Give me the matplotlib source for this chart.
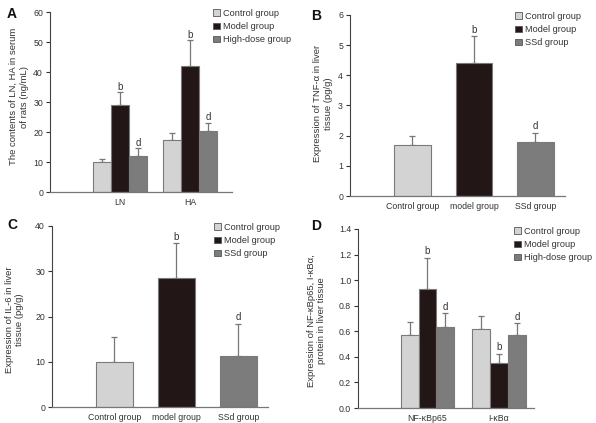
import numpy as np
import matplotlib.pyplot as plt

plt.rcParams['font.family'] = ['Liberation Sans', 'DejaVu Sans']
plt.rcParams['font.size'] = 6.3
plt.rcParams['text.color'] = '#333333'
plt.rcParams['axes.labelcolor'] = '#333333'
plt.rcParams['xtick.color'] = '#333333'
plt.rcParams['ytick.color'] = '#333333'

colors = ['#d3d3d3', '#221616', '#7c7c7c']
edge = '#7a7a7a'

# Panel A: LN, HA in serum
a_groups = ['LN', 'HA']
a_series = ['Control group', 'Model group', 'High-dose group']
a_mean = [[10.0, 17.2], [29.0, 42.0], [12.1, 20.2]]
a_err = [[1.0, 2.3], [4.2, 8.5], [2.4, 2.8]]
a_marks = [['', ''], ['b', 'b'], ['d', 'd']]

# Panel B: TNF-alpha
b_groups = ['Control group', 'model group', 'SSd group']
b_legend = ['Control group', 'Model group', 'SSd group']
b_mean = [1.7, 4.42, 1.8]
b_err = [0.3, 0.88, 0.3]
b_marks = ['', 'b', 'd']

# Panel C: IL-6
c_groups = ['Control group', 'model group', 'SSd group']
c_legend = ['Control group', 'Model group', 'SSd group']
c_mean = [10.0, 28.4, 11.3]
c_err = [5.4, 7.8, 7.1]
c_marks = ['', 'b', 'd']

# Panel D: NF-kBp65, I-kBa
d_groups = ['NF-κBp65', 'I-κBα']
d_series = ['Control group', 'Model group', 'High-dose group']
d_mean = [[0.57, 0.62], [0.93, 0.35], [0.63, 0.57]]
d_err = [[0.105, 0.1], [0.245, 0.075], [0.11, 0.095]]
d_marks = [['', ''], ['b', 'b'], ['d', 'd']]

W, H = 596, 423
fig = plt.figure(figsize=(W / 100, H / 100), dpi=100)


def style(ax, ylim, yticks, fmt):
    ax.set_ylim(*ylim)
    ax.set_yticks(yticks)
    ax.set_yticklabels([fmt.format(v) for v in yticks])
    for s in ['top', 'right']:
        ax.spines[s].set_visible(False)
    ax.spines['left'].set_color('#444444')
    ax.spines['bottom'].set_color('#777777')
    ax.spines['left'].set_linewidth(0.8)
    ax.spines['bottom'].set_linewidth(0.9)
    ax.tick_params(axis='y', direction='out', length=3, width=0.8, pad=2)
    ax.tick_params(axis='x', length=0, pad=4.5)


def legend(ax, labels, anchor):
    handles = [plt.Rectangle((0, 0), 1, 1, fc=c, ec='#555555', lw=0.6) for c in colors]
    ax.legend(handles, labels, loc='upper left', bbox_to_anchor=anchor,
              bbox_transform=fig.transFigure, frameon=False, handlelength=0.75,
              handleheight=0.75, handletextpad=0.3, labelspacing=0.45,
              borderaxespad=0, borderpad=0, fontsize=6.6)


def grouped(ax, groups, means, errs, marks, width, off):
    x = np.arange(len(groups))
    for i in range(3):
        pos = x + (i - 1) * width
        ax.bar(pos, means[i], width, color=colors[i], edgecolor=edge, linewidth=0.8, zorder=2)
        ax.errorbar(pos, means[i], yerr=[np.zeros(len(groups)), errs[i]], fmt='none',
                    ecolor='#777777', elinewidth=0.9, capsize=2.2, capthick=0.9, zorder=1)
        for p, m, e, t in zip(pos, means[i], errs[i], marks[i]):
            if t:
                ax.text(p, m + e + off, t, ha='center', va='bottom', fontsize=7)
    ax.set_xticks(x)
    ax.set_xticklabels(groups)


def single(ax, groups, means, errs, marks, width, off):
    x = np.arange(len(groups))
    ax.bar(x, means, width, color=colors, edgecolor=edge, linewidth=0.8, zorder=2)
    ax.errorbar(x, means, yerr=[np.zeros(len(x)), errs], fmt='none',
                ecolor='#777777', elinewidth=0.9, capsize=2.2, capthick=0.9, zorder=1)
    for p, m, e, t in zip(x, means, errs, marks):
        if t:
            ax.text(p, m + e + off, t, ha='center', va='bottom', fontsize=7)
    ax.set_xticks(x)
    ax.set_xticklabels(groups)


def letter(t, x, y):
    fig.text(x / W, 1 - y / H, t, fontsize=10, fontweight='bold', va='center', color='#111111')


# A
axA = fig.add_axes([50 / W, 1 - 192 / H, 182 / W, 180 / H])
grouped(axA, a_groups, a_mean, a_err, a_marks, 0.257, 0.3)
axA.set_xlim(-1.0, 1.6)
style(axA, (0, 60), [0, 10, 20, 30, 40, 50, 60], '{:.0f}')
axA.set_ylabel('The contents of LN, HA in serum\nof rats (ng/mL)', fontsize=6.8)
axA.yaxis.set_label_coords(-0.118, 0.53)
legend(axA, a_series, (213 / W, 1 - 9 / H))
letter('A', 7, 14)

# B
axB = fig.add_axes([350 / W, 1 - 196 / H, 215 / W, 181 / H])
single(axB, b_groups, b_mean, b_err, b_marks, 0.6, 0.05)
axB.set_xlim(-1.016, 2.48)
style(axB, (0, 6), [0, 1, 2, 3, 4, 5, 6], '{:.0f}')
axB.set_ylabel('Expression of TNF-α in liver\ntissue (pg/g)', fontsize=6.8)
axB.yaxis.set_label_coords(-0.08, 0.51)
legend(axB, b_legend, (515 / W, 1 - 12 / H))
letter('B', 311, 16)

# C
axC = fig.add_axes([52 / W, 1 - 407 / H, 216 / W, 181 / H])
single(axC, c_groups, c_mean, c_err, c_marks, 0.6, 0.3)
axC.set_xlim(-1.008, 2.476)
style(axC, (0, 40), [0, 10, 20, 30, 40], '{:.0f}')
axC.set_ylabel('Expression of IL-6 in liver\ntissue (pg/g)', fontsize=6.8)
axC.yaxis.set_label_coords(-0.13, 0.48)
legend(axC, c_legend, (214 / W, 1 - 223 / H))
letter('C', 7, 225)

# D
axD = fig.add_axes([358 / W, 1 - 408 / H, 176 / W, 179 / H])
grouped(axD, d_groups, d_mean, d_err, d_marks, 0.25, 0.01)
axD.set_xlim(-0.972, 1.49)
style(axD, (0, 1.4), [0, 0.2, 0.4, 0.6, 0.8, 1.0, 1.2, 1.4], '{:.1f}')
axD.set_ylabel('Expression of NF-κBp65, I-κBα,\nprotein in liver tissue', fontsize=6.8)
axD.yaxis.set_label_coords(-0.18, 0.49)
legend(axD, d_series, (514 / W, 1 - 227 / H))
letter('D', 311, 226)

fig.savefig('out.png', dpi=100)
